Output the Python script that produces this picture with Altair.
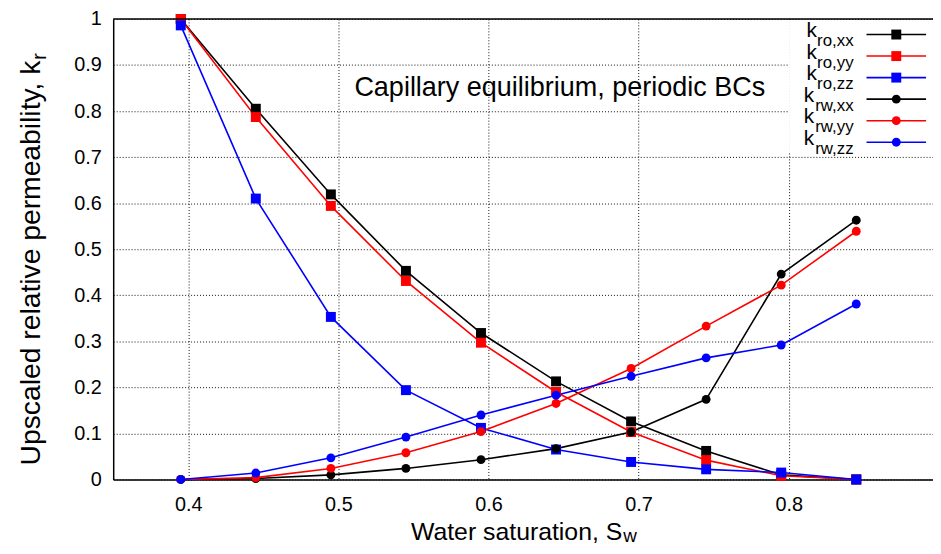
import altair as alt
import pandas as pd

# ---------------- data ----------------
sw = [0.395, 0.445, 0.495, 0.545, 0.595, 0.645, 0.695, 0.745, 0.795, 0.845]
kro_xx = [1.0, 0.805, 0.619, 0.453, 0.318, 0.213, 0.126, 0.062, 0.010, 0.0]
kro_yy = [1.0, 0.787, 0.594, 0.431, 0.297, 0.190, 0.103, 0.042, 0.008, 0.0]
kro_zz = [0.986, 0.610, 0.353, 0.194, 0.112, 0.065, 0.038, 0.022, 0.015, 0.0]
krw_xx = [0.0, 0.002, 0.010, 0.024, 0.043, 0.067, 0.103, 0.174, 0.446, 0.563]
krw_yy = [0.0, 0.004, 0.024, 0.058, 0.104, 0.165, 0.241, 0.333, 0.422, 0.539]
krw_zz = [0.0, 0.014, 0.047, 0.092, 0.140, 0.183, 0.224, 0.264, 0.292, 0.381]

series_names = ["kro,xx", "kro,yy", "kro,zz", "krw,xx", "krw,yy", "krw,zz"]
series_subs = ["ro,xx", "ro,yy", "ro,zz", "rw,xx", "rw,yy", "rw,zz"]
series_colors = ["#000000", "#ff0000", "#0000ff", "#000000", "#ff0000", "#0000ff"]
series_vals = [kro_xx, kro_yy, kro_zz, krw_xx, krw_yy, krw_zz]

x_ticks = [0.4, 0.5, 0.6, 0.7, 0.8]
y_ticks = [0, 0.1, 0.2, 0.3, 0.4, 0.5, 0.6, 0.7, 0.8, 0.9, 1.0]

title_text = "Capillary equilibrium, periodic BCs"
x_title = "Water saturation, S"
x_title_sub = "w"
y_title = "Upscaled relative permeability, k"
y_title_sub = "r"

rows = []
for name, vals in zip(series_names, series_vals):
    for s, v in zip(sw, vals):
        rows.append({"sw": s, "kr": v, "series": name, "kind": name[:3]})
df = pd.DataFrame(rows)

# ---------------- layout ----------------
FONT = "Liberation Sans"
W, H = 826, 464
PAD = {"left": 106, "top": 9, "right": 0, "bottom": 65}
XMIN, XMAX = 0.35, 0.35 + W / 1512.5
SQ, CI = 100, 80

one = pd.DataFrame({"a": [0]})

xenc = alt.X("sw:Q", scale=alt.Scale(domain=[XMIN, XMAX], nice=False, zero=False),
             axis=alt.Axis(values=x_ticks, format=".1~f", title=None, grid=True,
                           gridColor="#111", gridDash=[1, 2], gridWidth=1,
                           domainColor="black", domainWidth=1.5, ticks=False,
                           labelFont=FONT, labelFontSize=20, labelColor="black",
                           labelPadding=15))
yenc = alt.Y("kr:Q", scale=alt.Scale(domain=[0, 1], nice=False),
             axis=alt.Axis(values=y_ticks, format=".1~f", title=None, grid=True,
                           gridColor="#111", gridDash=[1, 2], gridWidth=1,
                           domainColor="black", domainWidth=1.5, ticks=False,
                           labelFont=FONT, labelFontSize=20, labelColor="black",
                           labelPadding=12))
cscale = alt.Scale(domain=series_names, range=series_colors)

base = alt.Chart(df).encode(x=xenc, y=yenc)

legend_bg = alt.Chart(one).mark_rect(color="white").encode(
    x=alt.value(681), x2=alt.value(W + 2), y=alt.value(1), y2=alt.value(134))

lines = base.mark_line(strokeWidth=1.6).encode(
    color=alt.Color("series:N", scale=cscale, legend=None), detail="series:N")
squares = base.transform_filter(alt.datum.kind == "kro").mark_square(size=SQ, opacity=1).encode(
    color=alt.Color("series:N", scale=cscale, legend=None))
circles = base.transform_filter(alt.datum.kind == "krw").mark_circle(size=CI, opacity=1).encode(
    color=alt.Color("series:N", scale=cscale, legend=None))

top_border = alt.Chart(one).mark_rule(color="black", strokeWidth=1.5).encode(
    x=alt.value(0), x2=alt.value(W + 2), y=alt.value(0))

layers = [legend_bg, lines, squares, circles, top_border]

# in-plot title
layers.append(alt.Chart(one).mark_text(text=title_text, font=FONT, fontSize=27.2, align="left",
                                       baseline="alphabetic", color="black").encode(
    x=alt.value(243), y=alt.value(78)))

# legend (key)
widths = {"r": .333, "o": .556, "w": .722, ",": .278, "x": .5, "y": .5, "z": .5}
for i, (sub, col) in enumerate(zip(series_subs, series_colors)):
    rc = 15.7 + 21.7 * i
    subw = sum(widths[c] for c in sub) * 17
    layers.append(alt.Chart(one).mark_rule(color=col, strokeWidth=1.6).encode(
        x=alt.value(759), x2=alt.value(819), y=alt.value(rc)))
    if i < 3:
        layers.append(alt.Chart(one).mark_square(size=SQ, opacity=1, color=col).encode(
            x=alt.value(789), y=alt.value(rc)))
    else:
        layers.append(alt.Chart(one).mark_circle(size=CI, opacity=1, color=col).encode(
            x=alt.value(789), y=alt.value(rc)))
    layers.append(alt.Chart(one).mark_text(text=sub, font=FONT, fontSize=17, align="right",
                                           baseline="alphabetic", color="black").encode(
        x=alt.value(746), y=alt.value(rc + 11.6)))
    layers.append(alt.Chart(one).mark_text(text="k", font=FONT, fontSize=21, align="right",
                                           baseline="alphabetic", color="black").encode(
        x=alt.value(746 - subw), y=alt.value(rc + 2.6)))

# axis titles
layers.append(alt.Chart(one).mark_text(text=x_title, font=FONT, fontSize=25, align="left",
                                       baseline="alphabetic", color="black").encode(
    x=alt.value(300), y=alt.value(524.7)))
layers.append(alt.Chart(one).mark_text(text=x_title_sub, font=FONT, fontSize=19, align="left",
                                       baseline="alphabetic", color="black").encode(
    x=alt.value(514), y=alt.value(527.5)))
layers.append(alt.Chart(one).mark_text(text=y_title, font=FONT, fontSize=28.5, align="right",
                                       baseline="alphabetic", angle=270, color="black").encode(
    x=alt.value(40 - 114), y=alt.value(59 - 17)))
layers.append(alt.Chart(one).mark_text(text=y_title_sub, font=FONT, fontSize=20, align="left",
                                       baseline="alphabetic", angle=270, color="black").encode(
    x=alt.value(46 - 114), y=alt.value(58 - 17)))

chart = alt.layer(*layers).properties(
    width=W, height=H,
    autosize=alt.AutoSizeParams(type="none"),
    padding=PAD,
    background="white",
).configure_view(stroke=None)

chart.save("out.html", embed_options={"renderer": "svg", "actions": False})
